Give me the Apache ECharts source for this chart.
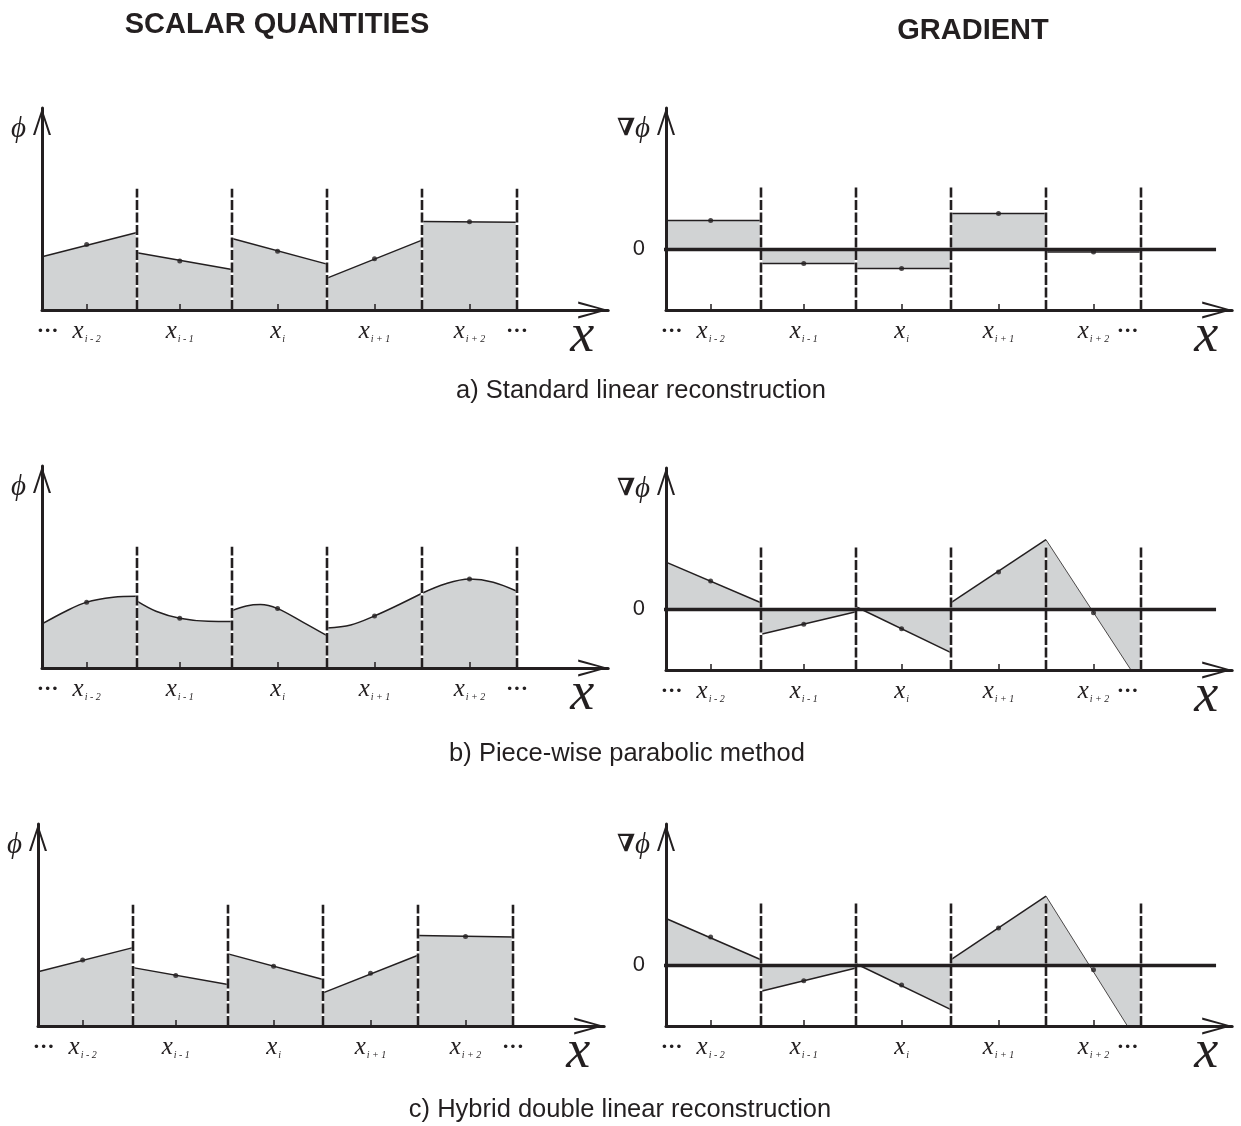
<!DOCTYPE html>
<html>
<head>
<meta charset="utf-8">
<script src="https://cdn.jsdelivr.net/npm/echarts@6/dist/echarts.min.js"></script>
<style>
  html, body { margin: 0; padding: 0; background: #ffffff; }
  #chart { width: 1241px; height: 1126px; }
</style>
</head>
<body>
<div id="chart"></div>
<script>
// ---------- cell layout (cell width = 1 along x) ----------
const cellFaces   = [1, 2, 3, 4, 5];
const cellCenters = [0.47, 1.45, 2.48, 3.5, 4.5];
const cellNames   = ['i - 2', 'i - 1', 'i', 'i + 1', 'i + 2'];
const scalarFaceTop = 6;      // height of the dashed cell faces, scalar plots
const gradFaceTop   = 3.1;    // height of the dashed cell faces, gradient plots
const gradZeroLine  = [-0.15, 5.79];
const scalarEllipsisAt = [0.06, 5.0];
const gradEllipsisAt   = [0.06, 4.86];

// ---------- a) standard linear reconstruction ----------
const phiLinearA = [[2.64, 3.84], [2.83, 2.01], [3.54, 2.27], [1.58, 3.46], [4.38, 4.35]];
const phiMeanA   = [3.24, 2.42, 2.91, 2.54, 4.37];
const gradA      = [1.43, -0.70, -0.95, 1.78, -0.13];

// ---------- b) piece-wise parabolic method ----------
const phiParabolicB = [
  [[0, 2.18], [0.25, 2.81], [0.47, 3.26], [0.75, 3.50], [1, 3.55]],
  [[1, 3.31], [1.2, 2.81], [1.45, 2.46], [1.75, 2.31], [2, 2.30]],
  [[2, 2.84], [2.15, 3.07], [2.3, 3.14], [2.48, 2.94], [2.75, 2.26], [3, 1.60]],
  [[3, 1.98], [3.25, 2.13], [3.5, 2.58], [3.75, 3.12], [4, 3.70]],
  [[4, 3.70], [4.25, 4.17], [4.5, 4.40], [4.75, 4.25], [5, 3.80]]
];
const phiMeanB  = [3.26, 2.46, 2.94, 2.58, 4.40];
const gradB     = [[2.34, 0.33], [-1.23, -0.12], [0.13, -2.14], [0.33, 3.45], [3.45, -3.76]];
const gradMeanB = [1.40, -0.73, -0.96, 1.85, -0.16];

// ---------- c) hybrid double linear reconstruction ----------
const phiLinearC = [[2.69, 3.88], [2.89, 2.05], [3.57, 2.30], [1.64, 3.50], [4.48, 4.40]];
const phiMeanC   = [3.27, 2.50, 2.96, 2.61, 4.43];
const gradC      = [[2.32, 0.28], [-1.28, -0.13], [0.08, -2.19], [0.28, 3.43], [3.43, -4.07]];
const gradMeanC  = [1.41, -0.76, -0.97, 1.85, -0.22];

// ---------- drawing ----------
const INK   = '#231f20';
const FILL  = '#d1d3d4';
const SERIF = "'Liberation Serif','Times New Roman','DejaVu Serif',serif";
const SANS  = "'Liberation Sans',Arial,Helvetica,sans-serif";
const X_MAX = 5.96;
const CELL_PX = 95;

const panels = [
  { left: 42,  top: 108, bottom: 310,  grad: false },
  { left: 666, top: 108, bottom: 310,  grad: true  },
  { left: 42,  top: 466, bottom: 668,  grad: false },
  { left: 666, top: 468, bottom: 670,  grad: true  },
  { left: 38,  top: 824, bottom: 1026, grad: false },
  { left: 666, top: 824, bottom: 1026, grad: true  }
];

// open arrow head pointing up, w x h box, stroke t
function chevron(w, h, t) {
  const c = w / 2;
  return 'path://M0,' + h + ' L' + c + ',0 L' + w + ',' + h + ' L' + (w - t) + ',' + h +
         ' L' + c + ',' + (t * 2.6) + ' L' + t + ',' + h + ' Z';
}

const xLabelRich = {
  x:   { fontFamily: SERIF, fontStyle: 'italic', fontSize: 25, color: INK, lineHeight: 26 },
  s:   { fontFamily: SERIF, fontStyle: 'italic', fontSize: 10, color: INK, lineHeight: 12,
         verticalAlign: 'bottom', padding: [0, 0, 0, 1] },
  dot: { fontFamily: SERIF, fontWeight: 'bold', fontSize: 22, color: INK, lineHeight: 26 }
};

const grids = [], xAxes = [], yAxes = [], series = [];

panels.forEach(function (p, gi) {
  grids.push({ left: p.left, top: p.top, width: X_MAX * CELL_PX, height: p.bottom - p.top });

  const ellipsis = p.grad ? gradEllipsisAt : scalarEllipsisAt;
  const labelValues = [ellipsis[0]].concat(cellCenters, [ellipsis[1]]);

  xAxes.push({
    type: 'value', gridIndex: gi, min: 0, max: X_MAX, z: 10,
    axisLine: {
      show: true, onZero: false,
      lineStyle: { color: INK, width: 3 },
      symbol: ['none', chevron(17, 30, 2.3)], symbolSize: [17, 30], symbolOffset: [0, -15]
    },
    axisTick: { show: true, inside: true, length: 6, customValues: cellCenters,
                lineStyle: { color: INK, width: 1.5 } },
    axisLabel: {
      customValues: labelValues, margin: 8, rich: xLabelRich,
      formatter: function (v) {
        const k = cellCenters.indexOf(v);
        if (k >= 0) return '{x|x}{s|' + cellNames[k] + '}';
        return '{dot|···}';
      }
    },
    splitLine: { show: false },
    name: 'x', nameLocation: 'end', nameGap: -26, nameMoveOverlap: false,
    nameTextStyle: { fontFamily: SERIF, fontStyle: 'italic', fontSize: 54, color: INK,
                     align: 'center', verticalAlign: 'top', lineHeight: 54 }
  });

  yAxes.push({
    type: 'value', gridIndex: gi, min: p.grad ? -3 : 0, max: p.grad ? 7 : 10, z: 10,
    axisLine: {
      show: true, onZero: true,
      lineStyle: { color: INK, width: 3 },
      symbol: ['none', chevron(18, 27, 2.2)], symbolSize: [18, 27], symbolOffset: [0, -13.5]
    },
    axisTick: { show: false },
    axisLabel: p.grad
      ? { customValues: [0], formatter: function () { return '0'; }, margin: 21,
          fontFamily: SANS, fontSize: 22, color: INK }
      : { show: false },
    splitLine: { show: false },
    name: p.grad ? '{n|∇}{p|ϕ}' : '{p|ϕ}',
    nameLocation: 'end', nameGap: -21, nameMoveOverlap: false,
    nameTextStyle: {
      color: INK, align: 'right', verticalAlign: 'middle', padding: [0, 16, 0, 0],
      rich: {
        n: { fontFamily: "'DejaVu Serif',serif", fontWeight: 'bold', fontSize: 24, color: INK },
        p: { fontFamily: SERIF, fontStyle: 'italic', fontSize: 29, color: INK }
      }
    }
  });
});

function cellLine(gi, pts, smooth, width) {
  return {
    type: 'line', xAxisIndex: gi, yAxisIndex: gi, data: pts, symbol: 'none',
    smooth: smooth ? 0.35 : false, silent: true, z: 2,
    lineStyle: { color: INK, width: width || 1.5 },
    areaStyle: { color: FILL, opacity: 1 }
  };
}
function faces(gi, y0, y1) {
  cellFaces.forEach(function (f) {
    series.push({ type: 'line', xAxisIndex: gi, yAxisIndex: gi, data: [[f, y0], [f, y1]],
                  symbol: 'none', silent: true, z: 3, lineStyle: { color: '#ffffff', width: 2.6 } });
    series.push({ type: 'line', xAxisIndex: gi, yAxisIndex: gi, data: [[f, y0], [f, y1]],
                  symbol: 'none', silent: true, z: 4,
                  lineStyle: { color: INK, width: 2.6, type: [10, 2.5] } });
  });
}
function dots(gi, values) {
  series.push({ type: 'scatter', xAxisIndex: gi, yAxisIndex: gi, silent: true, z: 6,
                data: cellCenters.map(function (x, k) { return [x, values[k]]; }),
                symbolSize: 5, itemStyle: { color: INK } });
}
function zeroLine(gi) {
  series.push({ type: 'line', xAxisIndex: gi, yAxisIndex: gi, clip: false, silent: true, z: 5,
                data: [[gradZeroLine[0], 0], [gradZeroLine[1], 0]], symbol: 'none',
                lineStyle: { color: INK, width: 3.5 } });
}
function linearCells(cells) {
  return cells.map(function (c, k) { return [[k, c[0]], [k + 1, c[1]]]; });
}

// a) scalar
linearCells(phiLinearA).forEach(function (pts) { series.push(cellLine(0, pts)); });
faces(0, 0, scalarFaceTop); dots(0, phiMeanA);
// a) gradient
gradA.forEach(function (g, k) { series.push(cellLine(1, [[k, g], [k + 1, g]])); });
faces(1, -3, gradFaceTop); zeroLine(1); dots(1, gradA);

// b) scalar
phiParabolicB.forEach(function (pts) { series.push(cellLine(2, pts, true)); });
faces(2, 0, scalarFaceTop); dots(2, phiMeanB);
// b) gradient
linearCells(gradB).forEach(function (pts, k) { series.push(cellLine(3, pts, false, k === 4 ? 0.8 : 1.5)); });
faces(3, -3, gradFaceTop); zeroLine(3); dots(3, gradMeanB);

// c) scalar
linearCells(phiLinearC).forEach(function (pts) { series.push(cellLine(4, pts)); });
faces(4, 0, scalarFaceTop); dots(4, phiMeanC);
// c) gradient
linearCells(gradC).forEach(function (pts, k) { series.push(cellLine(5, pts, false, k === 4 ? 0.8 : 1.5)); });
faces(5, -3, gradFaceTop); zeroLine(5); dots(5, gradMeanC);

function heading(text, x, y, size, bold) {
  return { text: text, left: x, top: y, textAlign: 'center', padding: 0,
           textStyle: { fontFamily: SANS, fontSize: size, fontWeight: bold ? 'bold' : 'normal', color: INK } };
}

const chart = echarts.init(document.getElementById('chart'), null, { renderer: 'canvas' });
chart.setOption({
  animation: false,
  backgroundColor: '#ffffff',
  title: [
    heading('SCALAR QUANTITIES', 277, 10, 29, true),
    heading('GRADIENT', 973, 16, 29, true),
    heading('a) Standard linear reconstruction', 641, 378, 25.5, false),
    heading('b) Piece-wise parabolic method', 627, 741, 25.5, false),
    heading('c) Hybrid double linear reconstruction', 620, 1097, 25.5, false)
  ],
  grid: grids,
  xAxis: xAxes,
  yAxis: yAxes,
  series: series
});
</script>
</body>
</html>
